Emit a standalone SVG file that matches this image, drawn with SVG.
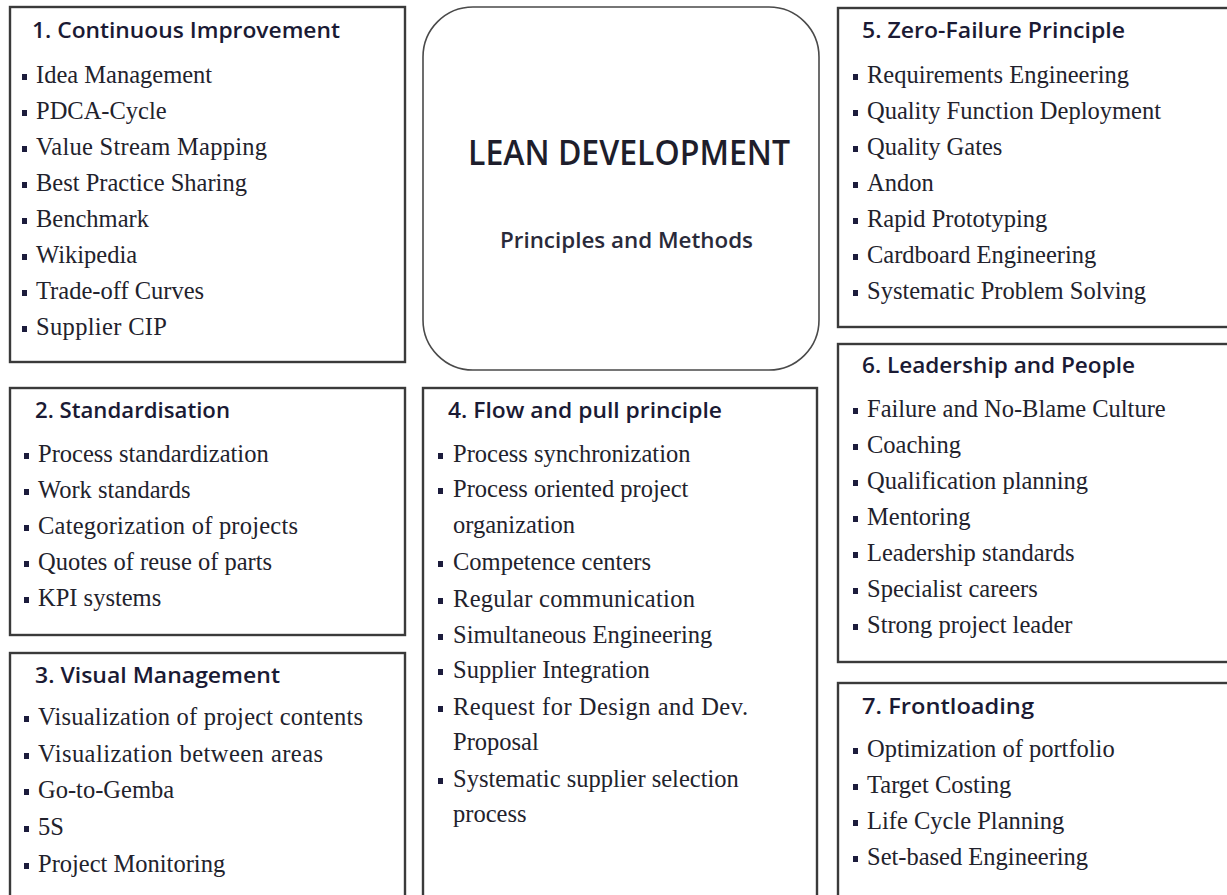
<svg xmlns="http://www.w3.org/2000/svg" width="1227" height="895" viewBox="0 0 1227 895">
  <style>
    .box { fill: #ffffff; stroke: #3a3a3a; stroke-width: 2.4; }
    .hub { fill: #ffffff; stroke: #4a4a4a; stroke-width: 1.6; }
    .title { font-family: "Open Sans", "Liberation Sans", sans-serif; font-weight: 600; font-size: 22px; fill: #1a1a34; }
    .item { font-family: "Liberation Serif", "Times New Roman", serif; font-size: 24.5px; fill: #22222c; }
    .bullet { fill: #1c1c3c; }
    .hubTitle { font-family: "Open Sans", "Liberation Sans", sans-serif; font-weight: 600; font-size: 34px; fill: #1e1e2c; }
    .hubSub { font-family: "Open Sans", "Liberation Sans", sans-serif; font-weight: 600; font-size: 22px; fill: #2a2a3a; }
  </style>
  <defs>
    <rect id="dot" width="5" height="6" class="bullet"/>
  </defs>
  <rect width="1227" height="895" fill="#ffffff"/>

  <!-- central hub -->
  <g id="hub">
    <rect class="hub" x="423" y="7" width="396" height="363" rx="50" ry="50"/>
    <text class="hubTitle" x="468" y="165" textLength="322" lengthAdjust="spacingAndGlyphs">LEAN DEVELOPMENT</text>
    <text class="hubSub" x="500" y="248" textLength="253" lengthAdjust="spacingAndGlyphs">Principles and Methods</text>
  </g>

  <!-- 1. Continuous Improvement -->
  <g id="continuous-improvement">
    <rect class="box" x="10" y="7" width="395" height="355"/>
    <text class="title" x="32" y="38" textLength="308" lengthAdjust="spacingAndGlyphs">1. Continuous Improvement</text>
    <g transform="translate(22,0)">
      <use href="#dot" y="74"/><use href="#dot" y="110"/><use href="#dot" y="146"/><use href="#dot" y="182"/>
      <use href="#dot" y="218"/><use href="#dot" y="254"/><use href="#dot" y="290"/><use href="#dot" y="326"/>
    </g>
    <text class="item" x="36" y="83">Idea Management</text>
    <text class="item" x="36" y="119">PDCA-Cycle</text>
    <text class="item" x="36" y="155" textLength="231">Value  Stream Mapping</text>
    <text class="item" x="36" y="191">Best Practice Sharing</text>
    <text class="item" x="36" y="227">Benchmark</text>
    <text class="item" x="36" y="263">Wikipedia</text>
    <text class="item" x="36" y="299">Trade-off Curves</text>
    <text class="item" x="36" y="335" textLength="131">Supplier  CIP</text>
  </g>

  <!-- 2. Standardisation -->
  <g id="standardisation">
    <rect class="box" x="10" y="388" width="395" height="247"/>
    <text class="title" x="35" y="418" textLength="195" lengthAdjust="spacingAndGlyphs">2. Standardisation</text>
    <g transform="translate(24,0)">
      <use href="#dot" y="453"/><use href="#dot" y="489"/><use href="#dot" y="525"/><use href="#dot" y="561"/><use href="#dot" y="597"/>
    </g>
    <text class="item" x="38" y="462">Process standardization</text>
    <text class="item" x="38" y="498">Work standards</text>
    <text class="item" x="38" y="534" textLength="260">Categorization  of projects</text>
    <text class="item" x="38" y="570">Quotes of reuse of parts</text>
    <text class="item" x="38" y="606">KPI systems</text>
  </g>

  <!-- 3. Visual Management -->
  <g id="visual-management">
    <rect class="box" x="10" y="653" width="395" height="260"/>
    <text class="title" x="35" y="683" textLength="245" lengthAdjust="spacingAndGlyphs">3. Visual Management</text>
    <g transform="translate(24,0)">
      <use href="#dot" y="716"/><use href="#dot" y="753"/><use href="#dot" y="789"/><use href="#dot" y="826"/><use href="#dot" y="863"/>
    </g>
    <text class="item" x="38" y="725" textLength="325">Visualization  of project contents</text>
    <text class="item" x="38" y="762" textLength="285">Visualization   between areas</text>
    <text class="item" x="38" y="798">Go-to-Gemba</text>
    <text class="item" x="38" y="835">5S</text>
    <text class="item" x="38" y="872">Project Monitoring</text>
  </g>

  <!-- 4. Flow and pull principle -->
  <g id="flow-and-pull">
    <rect class="box" x="423" y="388" width="394" height="525"/>
    <text class="title" x="448" y="418" textLength="274" lengthAdjust="spacingAndGlyphs">4. Flow and pull principle</text>
    <g transform="translate(438,0)">
      <use href="#dot" y="453"/><use href="#dot" y="488"/><use href="#dot" y="561"/><use href="#dot" y="598"/>
      <use href="#dot" y="634"/><use href="#dot" y="669"/><use href="#dot" y="706"/><use href="#dot" y="778"/>
    </g>
    <text class="item" x="453" y="462">Process synchronization</text>
    <text class="item" x="453" y="497">Process oriented project</text>
    <text class="item" x="453" y="533">organization</text>
    <text class="item" x="453" y="570">Competence centers</text>
    <text class="item" x="453" y="607" textLength="242">Regular  communication</text>
    <text class="item" x="453" y="643">Simultaneous Engineering</text>
    <text class="item" x="453" y="678">Supplier Integration</text>
    <text class="item" x="453" y="715" textLength="295">Request  for Design and Dev.</text>
    <text class="item" x="453" y="750">Proposal</text>
    <text class="item" x="453" y="787">Systematic supplier selection</text>
    <text class="item" x="453" y="822">process</text>
  </g>

  <!-- 5. Zero-Failure Principle -->
  <g id="zero-failure">
    <rect class="box" x="838" y="8" width="400" height="319"/>
    <text class="title" x="862" y="38" textLength="263" lengthAdjust="spacingAndGlyphs">5. Zero-Failure Principle</text>
    <g transform="translate(853,0)">
      <use href="#dot" y="74"/><use href="#dot" y="110"/><use href="#dot" y="146"/><use href="#dot" y="182"/>
      <use href="#dot" y="218"/><use href="#dot" y="254"/><use href="#dot" y="290"/>
    </g>
    <text class="item" x="867" y="83">Requirements Engineering</text>
    <text class="item" x="867" y="119">Quality Function Deployment</text>
    <text class="item" x="867" y="155">Quality Gates</text>
    <text class="item" x="867" y="191">Andon</text>
    <text class="item" x="867" y="227">Rapid Prototyping</text>
    <text class="item" x="867" y="263">Cardboard Engineering</text>
    <text class="item" x="867" y="299">Systematic Problem Solving</text>
  </g>

  <!-- 6. Leadership and People -->
  <g id="leadership-and-people">
    <rect class="box" x="838" y="344" width="400" height="318"/>
    <text class="title" x="862" y="373" textLength="273" lengthAdjust="spacingAndGlyphs">6. Leadership and People</text>
    <g transform="translate(853,0)">
      <use href="#dot" y="408"/><use href="#dot" y="444"/><use href="#dot" y="480"/><use href="#dot" y="516"/>
      <use href="#dot" y="552"/><use href="#dot" y="588"/><use href="#dot" y="624"/>
    </g>
    <text class="item" x="867" y="417">Failure and No-Blame Culture</text>
    <text class="item" x="867" y="453">Coaching</text>
    <text class="item" x="867" y="489">Qualification planning</text>
    <text class="item" x="867" y="525">Mentoring</text>
    <text class="item" x="867" y="561">Leadership standards</text>
    <text class="item" x="867" y="597">Specialist careers</text>
    <text class="item" x="867" y="633">Strong project leader</text>
  </g>

  <!-- 7. Frontloading -->
  <g id="frontloading">
    <rect class="box" x="838" y="683" width="400" height="230"/>
    <text class="title" x="862" y="714" textLength="172" lengthAdjust="spacingAndGlyphs">7. Frontloading</text>
    <g transform="translate(853,0)">
      <use href="#dot" y="748"/><use href="#dot" y="784"/><use href="#dot" y="820"/><use href="#dot" y="856"/>
    </g>
    <text class="item" x="867" y="757">Optimization of portfolio</text>
    <text class="item" x="867" y="793">Target Costing</text>
    <text class="item" x="867" y="829">Life Cycle Planning</text>
    <text class="item" x="867" y="865">Set-based Engineering</text>
  </g>

  <!-- no connectors are drawn between the panels -->
  <g id="connectors"/>
</svg>
